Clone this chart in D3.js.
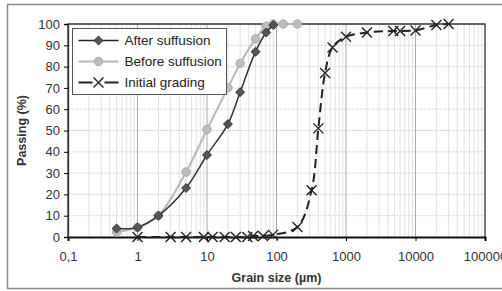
<!DOCTYPE html>
<html>
<head>
<meta charset="utf-8">
<script src="https://cdn.jsdelivr.net/npm/d3@7"></script>
<style>
  body { margin: 0; background: #fff; }
  svg { display: block; font-family: 'Liberation Sans', Arial, sans-serif; }
</style>
</head>
<body>
<div id="chart"></div>
<script>
// grain size (µm) and passing (%)
const afterSize = [0.5, 1, 2, 5, 10, 20, 30, 50, 71, 90]
const afterPass = [4, 4.5, 10, 23, 38.5, 53, 68, 87, 96, 99.5]

const beforeSize = [0.5, 1, 2, 5, 10, 20, 30, 50, 71, 90, 125, 200]
const beforePass = [2.3, 4.5, 10, 30.5, 50.5, 70, 81.5, 93, 99, 100, 100, 100]

const initialSize = [1, 3, 5, 9, 12, 18, 26, 38, 46, 64, 89, 200, 320, 400, 500, 640, 1000, 2000, 4800, 6000, 10000, 20000, 30000]
const initialPass = [0, 0, 0, 0, 0, 0, 0, 0, 0.5, 0.5, 1, 4.7, 22, 51, 77, 89, 94, 96, 96.7, 96.7, 97, 99.5, 100]

const xTicks = [0.1, 1, 10, 100, 1000, 10000, 100000]
const xTickLabels = ['0,1', '1', '10', '100', '1000', '10000', '100000']
const yTicks = [0, 10, 20, 30, 40, 50, 60, 70, 80, 90, 100]

const W = 502
const H = 291
const margin = { top: 24, right: 17, bottom: 54, left: 68 }
const width = W - margin.left - margin.right
const height = H - margin.top - margin.bottom

const svg = d3.select('#chart').append('svg')
  .attr('width', W)
  .attr('height', H)

// outer frame
svg.append('rect')
  .attr('x', 7.5).attr('y', 4.5)
  .attr('width', W).attr('height', 284)
  .attr('fill', 'none').attr('stroke', '#8a8a8a').attr('stroke-width', 1.5)

const g = svg.append('g')
  .attr('transform', `translate(${margin.left},${margin.top})`)

const x = d3.scaleLog().domain([0.1, 100000]).range([0, width])
const y = d3.scaleLinear().domain([0, 100]).range([height, 0])

// minor vertical grid
const minor = []
for (let e = -1; e < 5; e++) {
  for (let k = 2; k <= 9; k++) minor.push(k * Math.pow(10, e))
}
g.selectAll('.minor').data(minor).enter().append('line')
  .attr('x1', d => x(d)).attr('x2', d => x(d))
  .attr('y1', 0).attr('y2', height)
  .attr('stroke', '#dadada').attr('stroke-width', 0.8)

// horizontal grid
g.selectAll('.hgrid').data(yTicks.slice(1, -1)).enter().append('line')
  .attr('x1', 0).attr('x2', width)
  .attr('y1', d => y(d)).attr('y2', d => y(d))
  .attr('stroke', '#cfcfcf').attr('stroke-width', 0.8)
  .attr('stroke-dasharray', '3,1')

// major vertical grid
g.selectAll('.major').data(xTicks.slice(1, -1)).enter().append('line')
  .attr('x1', d => x(d)).attr('x2', d => x(d))
  .attr('y1', 0).attr('y2', height)
  .attr('stroke', '#a0a0a0').attr('stroke-width', 0.9)

// plot frame
g.append('path')
  .attr('d', `M0,${height}V0H${width}V${height}`)
  .attr('fill', 'none').attr('stroke', '#333').attr('stroke-width', 1.3)

// axes
const xAxis = g.append('g')
  .attr('transform', `translate(0,${height})`)
  .call(d3.axisBottom(x).tickValues(xTicks).tickFormat((d, i) => xTickLabels[i]).tickSize(4))
xAxis.select('.domain').attr('stroke', '#111').attr('stroke-width', 2)
xAxis.selectAll('text').attr('font-size', 13).attr('fill', '#333').attr('dy', '1.3em')

const yAxis = g.append('g')
  .call(d3.axisLeft(y).tickValues(yTicks).tickSize(4))
yAxis.select('.domain').attr('stroke', '#333').attr('stroke-width', 1.3)
yAxis.selectAll('text').attr('font-size', 13).attr('fill', '#333').attr('x', -8)

// axis titles
svg.append('text')
  .attr('x', margin.left + x(100)).attr('y', 282)
  .attr('text-anchor', 'middle')
  .attr('font-size', 12.5).attr('font-weight', 'bold').attr('fill', '#333')
  .text('Grain size (µm)')

svg.append('text')
  .attr('transform', `translate(26,${margin.top + height / 2}) rotate(-90)`)
  .attr('text-anchor', 'middle')
  .attr('font-size', 12.5).attr('font-weight', 'bold').attr('fill', '#333')
  .text('Passing (%)')

const pts = (s, p) => s.map((d, i) => [d, p[i]])
const line = d3.line().x(d => x(d[0])).y(d => y(d[1])).curve(d3.curveCatmullRom)

const afterData = pts(afterSize, afterPass)
const beforeData = pts(beforeSize, beforePass)
const initialData = pts(initialSize, initialPass)

// initial grading
g.append('path')
  .attr('d', line(initialData))
  .attr('fill', 'none').attr('stroke', '#222').attr('stroke-width', 2)
  .attr('stroke-dasharray', '9,5')

const cross = 5
g.selectAll('.cross').data(initialData).enter().append('path')
  .attr('d', d => {
    const cx = x(d[0])
    const cy = y(d[1])
    return `M${cx - cross},${cy - cross}L${cx + cross},${cy + cross}M${cx - cross},${cy + cross}L${cx + cross},${cy - cross}`
  })
  .attr('stroke', '#222').attr('stroke-width', 1.4)

// before suffusion
g.append('path')
  .attr('d', line(beforeData))
  .attr('fill', 'none').attr('stroke', '#b8b8b8').attr('stroke-width', 2)

g.selectAll('.circ').data(beforeData).enter().append('circle')
  .attr('cx', d => x(d[0])).attr('cy', d => y(d[1]))
  .attr('r', 4.2)
  .attr('fill', '#bdbdbd').attr('stroke', '#aaa')

// after suffusion
g.append('path')
  .attr('d', line(afterData))
  .attr('fill', 'none').attr('stroke', '#333').attr('stroke-width', 1.5)

const diamond = d3.symbol().type(d3.symbolDiamond2).size(52)
g.selectAll('.diam').data(afterData).enter().append('path')
  .attr('d', diamond)
  .attr('transform', d => `translate(${x(d[0])},${y(d[1])})`)
  .attr('fill', '#555').attr('stroke', '#222').attr('stroke-width', 0.8)

// legend
const legend = svg.append('g').attr('transform', 'translate(72.5,28.5)')
legend.append('rect')
  .attr('width', 154).attr('height', 66)
  .attr('fill', '#fff').attr('stroke', '#555').attr('stroke-width', 1)

const rows = [
  { label: 'After suffusion', type: 'after' },
  { label: 'Before suffusion', type: 'before' },
  { label: 'Initial grading', type: 'initial' }
]
const item = legend.selectAll('.item').data(rows).enter().append('g')
  .attr('transform', (_, i) => `translate(0,${12 + i * 21})`)

item.append('line')
  .attr('x1', 6).attr('x2', 46)
  .attr('stroke', d => d.type === 'before' ? '#b8b8b8' : '#222')
  .attr('stroke-width', d => d.type === 'after' ? 1.5 : 2)

item.filter(d => d.type === 'after').append('path')
  .attr('d', diamond).attr('transform', 'translate(26,0)')
  .attr('fill', '#555').attr('stroke', '#222').attr('stroke-width', 0.8)
item.filter(d => d.type === 'before').append('circle')
  .attr('cx', 26).attr('r', 4.2)
  .attr('fill', '#bdbdbd').attr('stroke', '#aaa')
item.filter(d => d.type === 'initial').append('path')
  .attr('d', `M${26 - cross},${-cross}L${26 + cross},${cross}M${26 - cross},${cross}L${26 + cross},${-cross}`)
  .attr('stroke', '#222').attr('stroke-width', 1.4)
item.filter(d => d.type === 'initial').select('line').attr('stroke', '#fff')
item.filter(d => d.type === 'initial').insert('path', 'path')
  .attr('d', 'M6,0H20M32,0H46')
  .attr('stroke', '#222').attr('stroke-width', 2)

item.append('text')
  .attr('x', 52).attr('dy', '0.35em')
  .attr('font-size', 13.5).attr('fill', '#222')
  .text(d => d.label)
</script>
</body>
</html>
